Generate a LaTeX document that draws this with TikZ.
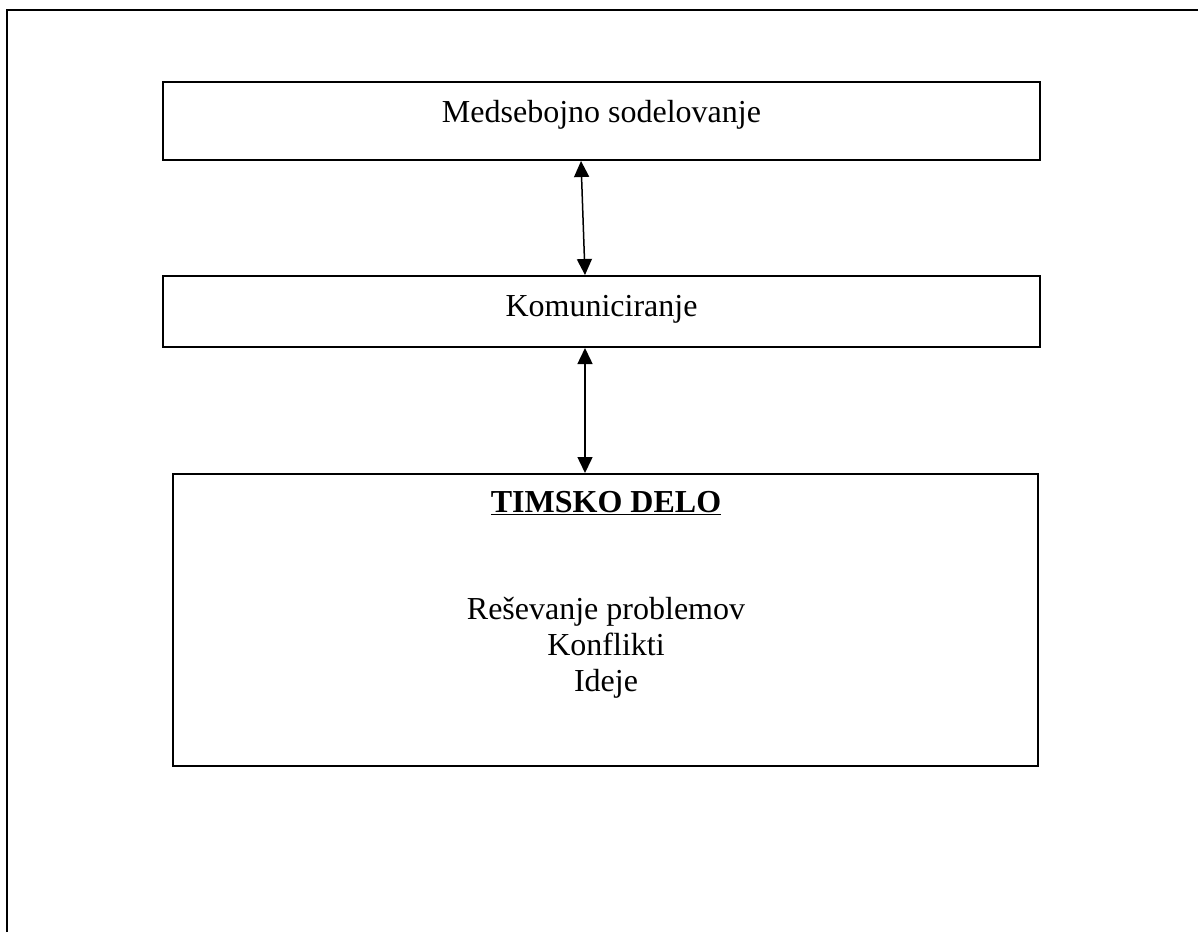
\documentclass[tikz,border=0pt]{standalone}
\usepackage{fontspec}
\setmainfont{Liberation Serif}
\usetikzlibrary{arrows.meta}
\begin{document}
\begin{tikzpicture}[x=1pt,y=-1pt,
  frameline/.style={line width=1.1pt},
  boxnode/.style={draw,line width=2pt,rectangle,inner sep=0pt},
  label/.style={inner sep=0pt,anchor=base,font=\fontsize{32}{36}\selectfont},
  link/.style={line width=1.5pt,{Triangle[length=16pt,width=15pt]}-{Triangle[length=16pt,width=15pt]}}]
  \useasboundingbox (0,0) rectangle (1198,932);
  % page frame, open at the right and at the bottom
  \draw[frameline] (7,932) -- (7,10) -- (1198,10);
  % boxes
  \node[boxnode,minimum width=877pt,minimum height=78pt] (top) at (601.5,121) {};
  \node[boxnode,minimum width=877pt,minimum height=71pt] (mid) at (601.5,311.5) {};
  \node[boxnode,minimum width=865pt,minimum height=292pt] (team) at (605.5,620) {};
  % texts
  \node[label] (t1) at (601.5,122) {Medsebojno sodelovanje};
  \node[label] (t2) at (601.5,316) {Komuniciranje};
  \node[label] (t3) at (606,512) {\textbf{\underline{TIMSKO DELO}}};
  \node[label] (t4) at (606,619) {Reševanje problemov};
  \node[label] (t5) at (606,655) {Konflikti};
  \node[label] (t6) at (606,691) {Ideje};
  % connectors
  \coordinate (a1) at (top.south -| 581,0);
  \coordinate (b1) at (mid.north -| 585,0);
  \coordinate (a2) at (mid.south -| 585,0);
  \coordinate (b2) at (team.north -| 585,0);
  \draw[link] (a1) -- (b1);
  \draw[link] (a2) -- (b2);
\end{tikzpicture}
\end{document}
